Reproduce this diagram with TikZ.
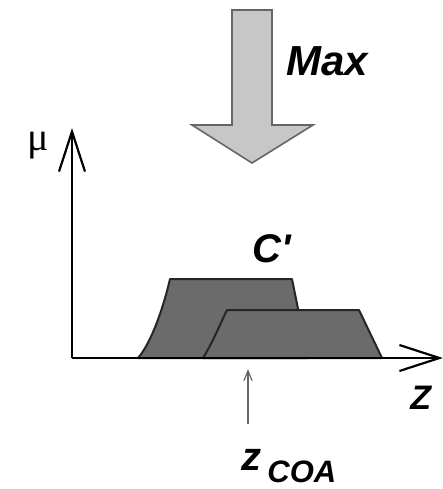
\documentclass[tikz,border=0pt]{standalone}
\usepackage{fontspec}
\newfontfamily\hv{Liberation Sans}
\newfontfamily\sr{Liberation Serif}
\usetikzlibrary{arrows.meta}

\tikzset{
  axis/.style={line width=1.1pt, -{Straight Barb[length=20pt, width=13pt, line width=1.1pt]}},
  fuzzy/.style={fill=black!58, draw=black!85, line width=1pt, line join=round},
  bold label/.style={inner sep=0pt, font=\hv\bfseries\itshape}
}

\begin{document}
\begin{tikzpicture}[x=0.5pt, y=-0.5pt]
        \useasboundingbox (0,0) rectangle (443,489);

        % Axes points
        \coordinate (o)    at (72,358);
        \coordinate (ytop) at (72,128);
        \coordinate (xend) at (443,358);
        \coordinate (coa)  at (248,369);

        % Aggregated output sets
        \draw[fuzzy] (138,358) .. controls (152,342) and (164,305) .. (170,279)
                     -- (292,279) -- (308,358) -- cycle;
        \draw[fuzzy] (203,358) .. controls (213,342) and (221,322) .. (227,310)
                     -- (359,310) -- (382,358) -- cycle;

        % Axes
        \draw[axis] (o) -- (ytop);
        \draw[axis] (o) -- (xend);

        % Labels
        \node (mu) at (38,146) {\sr\fontsize{20}{20}\selectfont μ};
        \node[bold label, anchor=base west] (z) at (410,409) {\fontsize{17}{17}\selectfont Z};
        \node[bold label, anchor=base west] (cp) at (252,262) {\fontsize{20}{20}\selectfont C'};
        \node[bold label, anchor=base west] (max) at (286,75) {\fontsize{21}{21}\selectfont Max};
        \node[bold label, anchor=base west] (zcoa) at (241,470)
             {\fontsize{20}{20}\selectfont z\hspace{3pt}\fontsize{15.5}{15.5}\selectfont\raisebox{-6pt}{COA}};

        % Max arrow
        \draw[fill=black!22, draw=black!60, line width=0.8pt, line join=miter]
             (232,10) -- (272,10) -- (272,125) -- (313,125) -- (252,163)
             -- (192,125) -- (232,125) -- cycle;

        % Centroid marker
        \draw[black!60, line width=0.6pt, -{Straight Barb[length=5pt, width=4pt]}]
             (248,424) -- (coa);
\end{tikzpicture}
\end{document}
